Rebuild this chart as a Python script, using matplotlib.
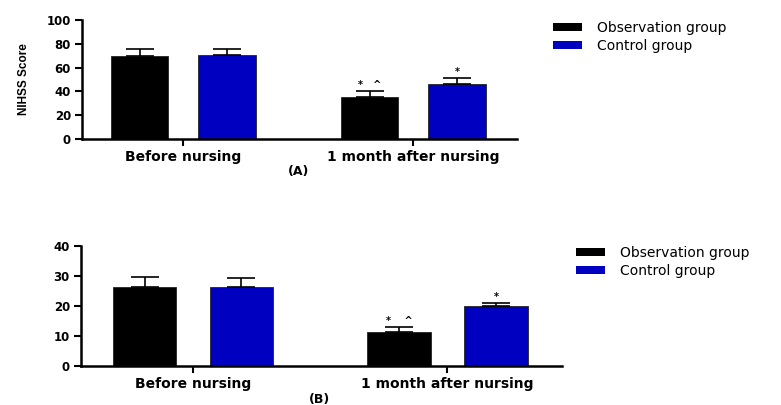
import matplotlib
matplotlib.use("Agg")
import matplotlib.pyplot as plt
from matplotlib.patches import Patch

plt.rcParams["font.family"] = ["DejaVu Sans"]

groups = ["Before nursing", "1 month after nursing"]
series = ["Observation group", "Control group"]
colors = ["#000000", "#0000c0"]

# panel A: NIHSS score (mean, SD)
nihss_mean = [[70, 35], [70.5, 46.5]]
nihss_sd = [[6, 5], [5.5, 5]]
nihss_marks = [["", "*   ^"], ["", "*"]]

# panel B: second score (mean, SD)
b_mean = [[26.3, 11.5], [26.2, 20]]
b_sd = [[3.4, 1.6], [3.0, 1.0]]
b_marks = [["", "*    ^"], ["", "*"]]

W, H = 781, 405
fig = plt.figure(figsize=(W / 100, H / 100), dpi=100)


def px_axes(left, top, right, bottom):
    return fig.add_axes([left / W, 1 - bottom / H, (right - left) / W, (bottom - top) / H])


def draw_panel(ax, means, sds, marks, ymax, ystep, ylabel, tag, tag_xy, leg_anchor):
    width, off = 0.25, 0.19
    x = list(range(len(groups)))
    for s, (m, e, mk, c) in enumerate(zip(means, sds, marks, colors)):
        xs = [xi + (2 * s - 1) * off for xi in x]
        ax.bar(xs, m, width=width, color=c, edgecolor="#222222", linewidth=0.6, zorder=2)
        ax.errorbar(xs, m, yerr=[[0] * len(m), e], fmt="none", ecolor="black",
                    elinewidth=1.2, capsize=10, capthick=1.2, zorder=3)
        for xi, mi, ei, t in zip(xs, m, e, mk):
            if t:
                ax.text(xi, mi + ei + ymax * 0.01, t, ha="center", va="bottom",
                        fontsize=7, fontweight="bold")
    ax.set_xlim(-0.44, 1.45)
    ax.set_ylim(0, ymax)
    ax.set_yticks(range(0, ymax + 1, ystep))
    ax.set_xticks(x)
    ax.set_xticklabels(groups, fontsize=10, fontweight="bold")
    ax.tick_params(axis="y", labelsize=8.5, width=1.5, length=5, pad=3)
    for lab in ax.get_yticklabels():
        lab.set_fontweight("bold")
    ax.tick_params(axis="x", width=1.5, length=5, pad=3)
    for sp in ("top", "right"):
        ax.spines[sp].set_visible(False)
    for sp in ("left", "bottom"):
        ax.spines[sp].set_linewidth(1.8)
    if ylabel:
        ax.set_ylabel(ylabel, fontsize=8.5, fontfamily="Liberation Sans",
                      fontweight="bold", labelpad=12)
    fig.text(tag_xy[0] / W, 1 - tag_xy[1] / H, tag, ha="center", va="center",
             fontsize=9, fontweight="bold")
    handles = [Patch(facecolor=c, edgecolor="none", label=s) for s, c in zip(series, colors)]
    ax.legend(handles=handles, loc="upper left", bbox_to_anchor=leg_anchor,
              bbox_transform=fig.transFigure, frameon=False, fontsize=10,
              handlelength=2.1, handleheight=0.45, handletextpad=1.1,
              labelspacing=0.3, borderpad=0, borderaxespad=0)


ax_a = px_axes(82, 20, 517, 139)
draw_panel(ax_a, nihss_mean, nihss_sd, nihss_marks, 100, 20, "NIHSS Score", "(A)",
           (299, 172), (553 / W, 1 - 21 / H))

ax_b = px_axes(81, 246, 562, 366)
draw_panel(ax_b, b_mean, b_sd, b_marks, 40, 10, None, "(B)",
           (320, 400), (576 / W, 1 - 246 / H))

fig.savefig("out.png", dpi=100)
